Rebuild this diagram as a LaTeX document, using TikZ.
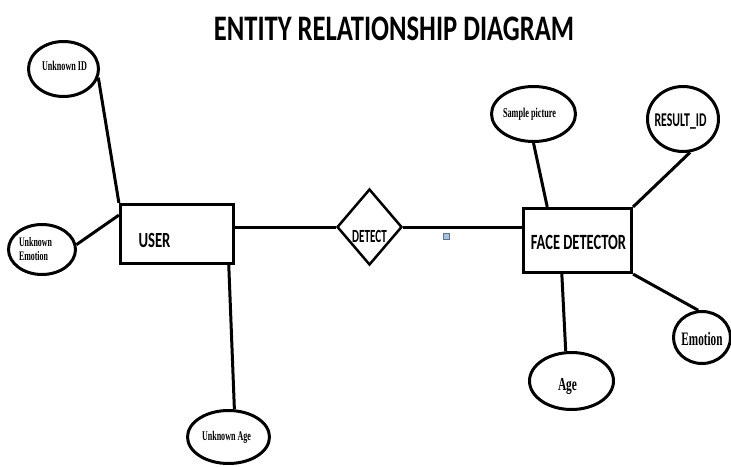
\documentclass[tikz,border=0pt]{standalone}
\usepackage{fontspec}
\setmainfont{Liberation Serif}
\newfontfamily\carlito{Carlito}
\usetikzlibrary{shapes.geometric}
\definecolor{handlefill}{HTML}{A9C0DA}
\definecolor{handleedge}{HTML}{5A7390}
% stretch a label vertically
\newcommand{\tallbox}[2]{\scalebox{1}[#1]{#2}}
\begin{document}
\begin{tikzpicture}[x=1pt,y=-1pt,
  attr/.style={draw, ellipse, line width=3pt, inner sep=0pt},
  entity/.style={draw, rectangle, line width=3.2pt, inner sep=0pt},
  relation/.style={draw, diamond, line width=2.5pt, inner sep=0pt},
  link/.style={line width=3pt},
  sanslbl/.style={font=\carlito\bfseries, inner sep=0pt},
  seriflbl/.style={font=\bfseries, inner sep=0pt}]
\useasboundingbox (0,0) rectangle (731,466);

% title
\node[sanslbl, font=\carlito\bfseries\fontsize{26.6}{30}\selectfont] (title) at (394,28.5)
  {\tallbox{1.35}{ENTITY RELATIONSHIP DIAGRAM}};

% entities and relationship
\node[entity, minimum width=113pt, minimum height=59pt] (user) at (177,234) {};
\node[entity, minimum width=108pt, minimum height=64pt] (fd) at (577.5,240.5) {};
\node[relation, minimum width=65pt, minimum height=76pt] (det) at (369.5,227) {};

\node[sanslbl, font=\carlito\bfseries\fontsize{14.7}{16}\selectfont] (usertxt) at (154.5,240) {\tallbox{1.47}{USER}};
\node[sanslbl, font=\carlito\bfseries\fontsize{14.5}{16}\selectfont] (fdtxt) at (578.5,242.5) {\tallbox{1.5}{FACE DETECTOR}};
\node[sanslbl, font=\carlito\bfseries\fontsize{11.1}{13}\selectfont] (dettxt) at (369.5,236) {\tallbox{1.67}{DETECT}};

% attributes
\node[attr, minimum width=70pt, minimum height=55pt] (uid) at (63.5,69) {};
\node[attr, minimum width=67pt, minimum height=50pt] (uem) at (42,249.5) {};
\node[attr, minimum width=82pt, minimum height=53pt] (uage) at (228.5,437) {};
\node[attr, minimum width=84pt, minimum height=55pt] (samp) at (533.5,114) {};
\node[attr, minimum width=71pt, minimum height=65pt] (rid) at (683,119) {};
\node[attr, minimum width=84pt, minimum height=57pt] (age) at (571.5,381) {};
\node[attr, minimum width=57pt, minimum height=52pt] (emo) at (702,337.5) {};

\node[seriflbl, font=\bfseries\fontsize{8.1}{10}\selectfont] (uidtxt) at (64.5,66) {\tallbox{1.65}{Unknown ID}};
\node[seriflbl, font=\bfseries\fontsize{7.9}{8.5}\selectfont] (uemtxt) at (35.5,251)
  {\tallbox{1.65}{\begin{tabular}{@{}l@{}}Unknown\\Emotion\end{tabular}}};
\node[seriflbl, font=\bfseries\fontsize{8.05}{10}\selectfont] (uagetxt) at (226.5,437.5) {\tallbox{1.65}{Unknown Age}};
\node[seriflbl, font=\bfseries\fontsize{8.2}{10}\selectfont] (samptxt) at (529.5,114.5) {\tallbox{1.65}{Sample picture}};
\node[sanslbl, font=\carlito\bfseries\fontsize{11.8}{14}\selectfont] (ridtxt) at (680.5,121.5) {\tallbox{1.65}{RESULT\_ID}};
\node[seriflbl, font=\bfseries\fontsize{11.4}{13}\selectfont] (agetxt) at (567.5,386) {\tallbox{1.6}{Age}};
\node[seriflbl, font=\bfseries\fontsize{11.2}{13}\selectfont] (emotxt) at (702,339) {\tallbox{1.7}{Emotion}};

% small selection handle on the connector
\node[draw=handleedge, fill=handlefill, line width=1pt, minimum size=6pt, inner sep=0pt] (handle) at (446.5,236) {};

% connectors
\draw[link] (uid.-14) -- (user.north west);
\draw[link] (uem.8) -- (user.162);
\draw[link] (user.-31) -- (uage.78);
\draw[link] (det.west -| user.east) -- (det.west);
\draw[link] (det.east) -- (det.east -| fd.west);
\draw[link] (samp.-90) -- (fd.132);
\draw[link] (rid.-78) -- (fd.north east);
\draw[link] (fd.-115) -- (age.101);
\draw[link] (fd.south east) -- (emo.98);
\end{tikzpicture}
\end{document}
